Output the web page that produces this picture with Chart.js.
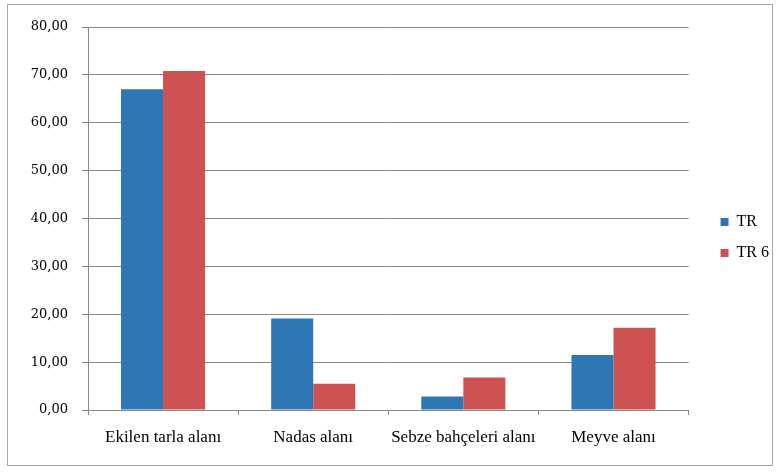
<!DOCTYPE html>
<html>
<head>
<meta charset="utf-8">
<script src="https://cdn.jsdelivr.net/npm/chart.js@4"></script>
<style>
  html, body { margin: 0; padding: 0; background: #fff; }
  #wrap { width: 779px; height: 473px; }
</style>
</head>
<body>
<div id="wrap"><canvas id="c" width="779" height="473"></canvas></div>
<script>
const categories = ['Ekilen tarla alanı', 'Nadas alanı', 'Sebze bahçeleri alanı', 'Meyve alanı'];
const trValues = [67.0, 19.1, 2.8, 11.5];
const tr6Values = [70.8, 5.5, 6.8, 17.2];
const seriesNames = ['TR', 'TR 6'];

const serif = "'Liberation Serif', 'Times New Roman', serif";
const serifWide = "'DejaVu Serif', 'Liberation Serif', serif";

const frame = {
  id: 'frame',
  beforeDraw (chart) {
    const ctx = chart.ctx;
    ctx.save();
    ctx.fillStyle = '#fff';
    ctx.fillRect(0, 0, chart.width, chart.height);
    ctx.strokeStyle = '#a6a6a6';
    ctx.lineWidth = 1;
    ctx.strokeRect(7.5, 4.5, 765, 461);
    ctx.restore();
  }
};

new Chart(document.getElementById('c'), {
  type: 'bar',
  data: {
    labels: categories,
    datasets: [
      { label: seriesNames[0], data: trValues, backgroundColor: '#2f76b7' },
      { label: seriesNames[1], data: tr6Values, backgroundColor: '#cd5252' }
    ]
  },
  options: {
    responsive: false,
    animation: false,
    layout: { padding: { top: 27, right: 0, bottom: 25, left: 0 } },
    datasets: { bar: { categoryPercentage: 0.56, barPercentage: 1.0 } },
    plugins: {
      tooltip: { enabled: false },
      legend: {
        position: 'right',
        maxWidth: 74,
        labels: {
          boxWidth: 8,
          boxHeight: 8,
          padding: 15,
          color: '#000',
          font: { family: serif, size: 16 }
        }
      }
    },
    scales: {
      x: {
        grid: { display: true, drawOnChartArea: false, drawTicks: true, tickLength: 5, color: '#888' },
        border: { color: '#888' },
        ticks: {
          color: '#000',
          padding: 12,
          maxRotation: 0,
          minRotation: 0,
          autoSkip: false,
          font: { family: serif, size: 17 }
        },
        afterFit (s) { s.height = 38; }
      },
      y: {
        min: 0,
        max: 80,
        grid: { color: '#888', tickLength: 6 },
        border: { color: '#888' },
        ticks: {
          stepSize: 10,
          color: '#000',
          padding: 14,
          font: { family: serifWide, size: 13 },
          callback: v => v.toFixed(2).replace('.', ',')
        },
        afterFit (s) { s.width = 88; }
      },
      gap: {
        position: 'right',
        type: 'linear',
        grid: { display: false },
        border: { display: false },
        ticks: { display: false },
        afterFit (s) { s.width = 17; }
      }
    }
  },
  plugins: [frame]
});
</script>
</body>
</html>
